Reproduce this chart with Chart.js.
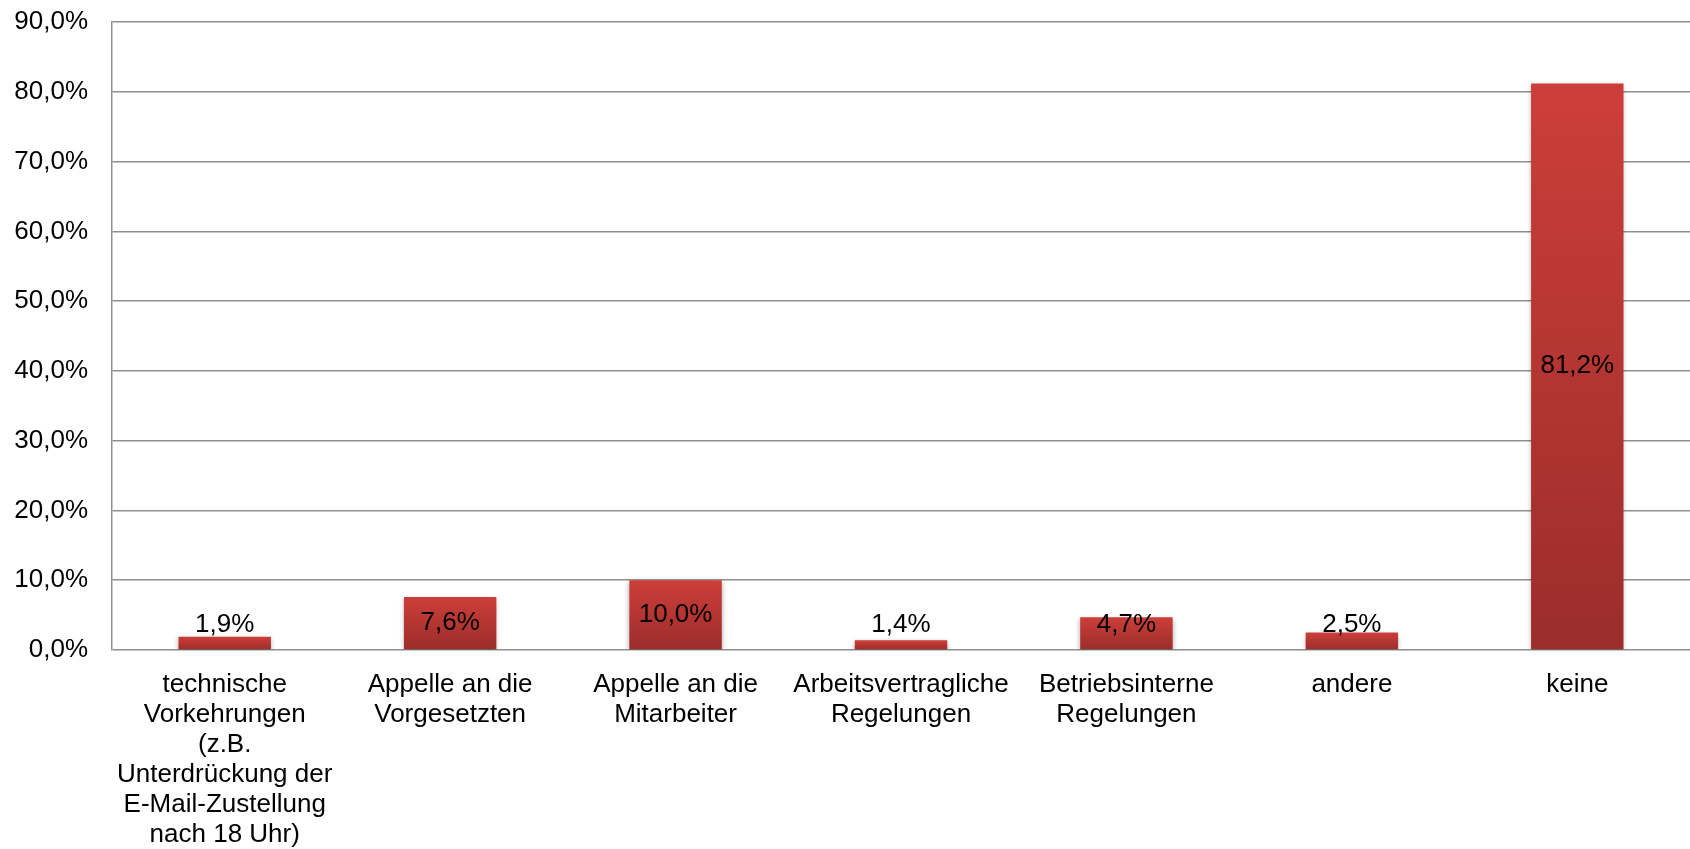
<!DOCTYPE html>
<html>
<head>
<meta charset="utf-8">
<script src="https://cdn.jsdelivr.net/npm/chart.js@4"></script>
<style>
  html, body { margin: 0; padding: 0; background: #fff; }
  #wrap { width: 1690px; height: 849px; }
</style>
</head>
<body>
<div id="wrap"><canvas id="chart" width="1690" height="849"></canvas></div>
<script>
  const categories = [
    ['technische', 'Vorkehrungen', '(z.B.', 'Unterdrückung der', 'E-Mail-Zustellung', 'nach 18 Uhr)'],
    ['Appelle an die', 'Vorgesetzten'],
    ['Appelle an die', 'Mitarbeiter'],
    ['Arbeitsvertragliche', 'Regelungen'],
    ['Betriebsinterne', 'Regelungen'],
    ['andere'],
    ['keine']
  ];
  const values = [1.9, 7.6, 10.0, 1.4, 4.7, 2.5, 81.2];
  const yTicks = [0, 10, 20, 30, 40, 50, 60, 70, 80, 90];

  const fmt = function (v) { return v.toFixed(1).replace('.', ',') + '%'; };
  const FONT = '"Liberation Sans", Arial, sans-serif';

  const barShadow = {
    id: 'barShadow',
    beforeDatasetsDraw(chart) {
      const ctx = chart.ctx;
      ctx.save();
      ctx.shadowColor = 'rgba(0,0,0,0.35)';
      ctx.shadowBlur = 5;
      ctx.shadowOffsetX = 0;
      ctx.shadowOffsetY = 2;
    },
    afterDatasetsDraw(chart) {
      chart.ctx.restore();
    }
  };

  const barLabels = {
    id: 'barLabels',
    afterDatasetsDraw(chart) {
      const ctx = chart.ctx;
      const meta = chart.getDatasetMeta(0);
      ctx.save();
      ctx.font = '26px ' + FONT;
      ctx.fillStyle = '#000';
      ctx.textAlign = 'center';
      ctx.textBaseline = 'middle';
      meta.data.forEach(function (bar, i) {
        const y = Math.min((bar.y + bar.base) / 2, bar.base - 24);
        ctx.fillText(fmt(values[i]), bar.x, y);
      });
      ctx.restore();
    }
  };

  new Chart(document.getElementById('chart'), {
    type: 'bar',
    data: {
      labels: categories,
      datasets: [{
        data: values,
        borderWidth: 0,
        backgroundColor: function (c) {
          const chart = c.chart;
          const y = chart.scales.y;
          if (!y || c.dataIndex === undefined) return '#c43a35';
          const top = y.getPixelForValue(values[c.dataIndex]);
          const base = y.getPixelForValue(0);
          if (!isFinite(top) || !isFinite(base) || top === base) return '#c43a35';
          const g = chart.ctx.createLinearGradient(0, top, 0, base);
          g.addColorStop(0, '#cd3e39');
          g.addColorStop(1, '#9b2d2b');
          return g;
        },
        categoryPercentage: 1,
        barPercentage: 0.41
      }]
    },
    options: {
      responsive: false,
      animation: false,
      layout: { padding: { top: 22, right: 0, left: 0, bottom: 0 } },
      plugins: {
        legend: { display: false },
        tooltip: { enabled: false }
      },
      scales: {
        x: {
          grid: { display: false, drawTicks: false },
          border: { display: false },
          ticks: {
            color: '#000',
            font: { family: FONT, size: 26, lineHeight: 1.154 },
            padding: 20,
            maxRotation: 0,
            autoSkip: false
          },
          afterFit: function (s) { s.height = 199; s.paddingLeft = 0; s.paddingRight = 0; }
        },
        y: {
          min: 0,
          max: 90,
          afterBuildTicks: function (s) { s.ticks = yTicks.map(function (v) { return { value: v }; }); },
          grid: { color: '#8f8f8f', lineWidth: 1.5, drawTicks: false },
          border: { display: true, color: '#8f8f8f', width: 1.5 },
          ticks: {
            color: '#000',
            font: { family: FONT, size: 26 },
            padding: 24,
            callback: function (v) { return fmt(v); }
          },
          afterFit: function (s) { s.width = 112; s.paddingTop = 0; s.paddingBottom = 0; }
        }
      }
    },
    plugins: [barShadow, barLabels]
  });
</script>
</body>
</html>
